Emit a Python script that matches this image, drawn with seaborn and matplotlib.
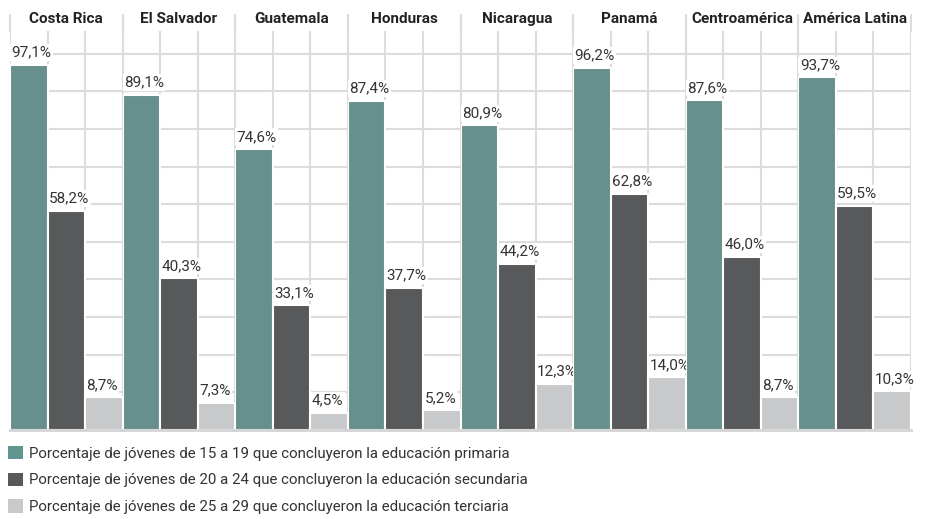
import matplotlib
matplotlib.use("Agg")
import matplotlib.pyplot as plt
from matplotlib.patches import Patch
import seaborn as sns
import pandas as pd

countries = ["Costa Rica", "El Salvador", "Guatemala", "Honduras", "Nicaragua",
             "Panamá", "Centroamérica", "América Latina"]
primaria = [97.1, 89.1, 74.6, 87.4, 80.9, 96.2, 87.6, 93.7]
secundaria = [58.2, 40.3, 33.1, 37.7, 44.2, 62.8, 46.0, 59.5]
terciaria = [8.7, 7.3, 4.5, 5.2, 12.3, 14.0, 8.7, 10.3]
series = [
    "Porcentaje de jóvenes de 15 a 19 que concluyeron la educación primaria",
    "Porcentaje de jóvenes de 20 a 24 que concluyeron la educación secundaria",
    "Porcentaje de jóvenes de 25 a 29 que concluyeron la educación terciaria",
]
colors = ["#619590", "#58595b", "#c8c9ca"]

rows = []
for i, c in enumerate(countries):
    for s, vals in zip(series, [primaria, secundaria, terciaria]):
        rows.append({"pais": c, "serie": s, "valor": vals[i]})
df = pd.DataFrame(rows)

sns.set_theme(style="white")
plt.rcParams["font.family"] = ["Roboto", "DejaVu Sans"]

g = sns.catplot(data=df, x="serie", y="valor", hue="serie", col="pais",
                col_order=countries, order=series, hue_order=series,
                kind="bar", palette=colors, width=1.0, height=4, aspect=0.3,
                legend=False, edgecolor="white", linewidth=1.5, sharey=True,
                errorbar=None)
fig = g.figure
fig.set_size_inches(9.29, 5.19)
fig.subplots_adjust(left=10 / 929, right=911 / 929, bottom=1 - 430 / 519,
                    top=1 - 31 / 519, wspace=0)

grid_c = "#dcdcdc"
ymax = 106
for ax, c in zip(g.axes.flat, countries):
    ax.set_facecolor("white")
    ax.set_ylim(0, ymax)
    ax.set_xlim(-0.5, 2.5)
    ax.set_yticks(range(0, 101, 10))
    ax.set_xticks([-0.5, 0.5, 1.5, 2.5])
    ax.tick_params(left=False, bottom=False, labelleft=False, labelbottom=False)
    ax.grid(True, color=grid_c, linewidth=1.5)
    ax.set_axisbelow(True)
    ax.set_xlabel("")
    ax.set_ylabel("")
    for side in ["left", "right"]:
        ax.spines[side].set_visible(False)
    ax.spines["top"].set_color(grid_c)
    ax.spines["top"].set_linewidth(1.5)
    ax.spines["bottom"].set_color("#d4d4d4")
    ax.spines["bottom"].set_linewidth(2)
    ax.axvline(-0.5, ymin=1, ymax=1 + 16 / 399, color=grid_c, lw=1.5, clip_on=False)
    ax.axvline(2.5, ymin=1, ymax=1 + 16 / 399, color=grid_c, lw=1.5, clip_on=False)
    ax.set_title(c, fontsize=11, fontweight="bold", color="#222222", pad=6)
    for cont in ax.containers:
        for bar in cont:
            h = bar.get_height()
            ax.annotate(f"{h:.1f}%".replace(".", ","),
                        xy=(bar.get_x(), h), xytext=(1.0, 6),
                        textcoords="offset points", ha="left", va="baseline",
                        fontsize=11, color="#333333", annotation_clip=False,
                        bbox=dict(facecolor="white", edgecolor="none", pad=1))

handles = [Patch(facecolor=col, edgecolor="none") for col in colors]
fig.legend(handles, series, loc="upper left",
           bbox_to_anchor=(8 / 929, 1 - 446 / 519), frameon=False,
           fontsize=10.8, handlelength=1.0, handleheight=1.0, handletextpad=0.4,
           labelspacing=0.78, borderpad=0, borderaxespad=0, labelcolor="#333333")

fig.savefig("out.png", dpi=100)
